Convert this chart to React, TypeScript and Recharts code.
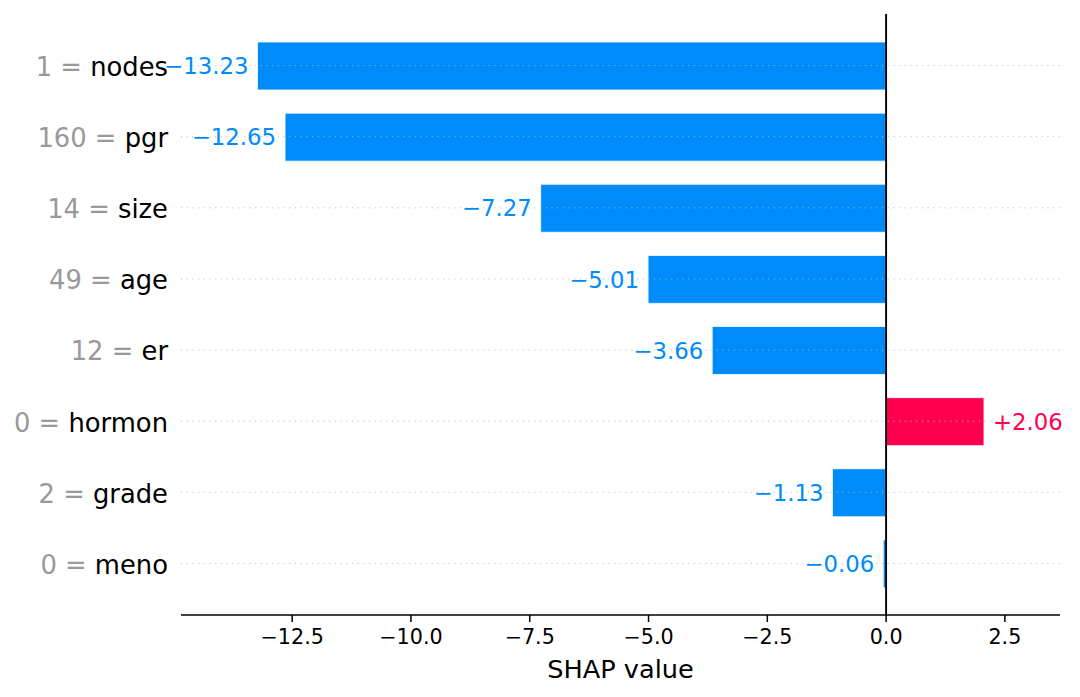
import React from 'react';
import { BarChart, Bar, XAxis, YAxis, ReferenceLine, Cell, LabelList } from 'recharts';

const features = ['nodes', 'pgr', 'size', 'age', 'er', 'hormon', 'grade', 'meno'];
const featureValues = ['1', '160', '14', '49', '12', '0', '2', '0'];
const shapValues = [-13.23, -12.65, -7.27, -5.01, -3.66, 2.06, -1.13, -0.06];
const xTicks = [-12.5, -10, -7.5, -5, -2.5, 0, 2.5];

const BLUE = '#008BFB';
const RED = '#FF0051';
const FONT = '"DejaVu Sans", sans-serif';

const data = features.map((f, i) => ({ name: f, fv: featureValues[i], value: shapValues[i] }));

const fmtTick = (v: number) => (v < 0 ? '\u2212' + Math.abs(v).toFixed(1) : v.toFixed(1));
const fmtVal = (v: number) => (v < 0 ? '\u2212' + Math.abs(v).toFixed(2) : '+' + v.toFixed(2));

const YTick = (props: any) => {
  const { x, y, payload } = props;
  const idx = features.indexOf(payload.value);
  return (
    <text x={x - 5} y={y} dy="0.4em" textAnchor="end" fontFamily={FONT} fontSize={25.8}>
      <tspan fill="#999999">{featureValues[idx] + ' = '}</tspan>
      <tspan fill="#000000">{payload.value}</tspan>
    </text>
  );
};

const XTick = (props: any) => {
  const { x, payload } = props;
  return (
    <text x={x} y={615 + 13} dy={15.8} textAnchor="middle" fontFamily={FONT} fontSize={20.7} fill="#000">
      {fmtTick(payload.value)}
    </text>
  );
};

const ValueLabel = (props: any) => {
  const { x, y, width, height, index } = props;
  const v = shapValues[index];
  const left = Math.min(x, x + width);
  const right = Math.max(x, x + width);
  const cy = y + height / 2;
  if (v < 0) {
    return (
      <text x={left - 9} y={cy} dy="0.36em" textAnchor="end" fontFamily={FONT} fontSize={22.8} fill={BLUE}>
        {fmtVal(v)}
      </text>
    );
  }
  return (
    <text x={right + 9} y={cy} dy="0.36em" textAnchor="start" fontFamily={FONT} fontSize={22.8} fill={RED}>
      {fmtVal(v)}
    </text>
  );
};

export default function App() {
  return (
    <div style={{ position: 'absolute', left: 0, top: 0, width: 1080, height: 697, background: '#fff' }}>
      <BarChart
        width={1080}
        height={697}
        data={data}
        layout="vertical"
        margin={{ top: 14, right: 20, bottom: 0, left: 0 }}
      >
        <XAxis
          type="number"
          domain={[-14.84, 3.66]}
          ticks={xTicks}
          allowDataOverflow
          height={82}
          tick={<XTick />}
          tickSize={7}
          tickLine={{ stroke: '#000', strokeWidth: 1.5 }}
          axisLine={{ stroke: '#000', strokeWidth: 1.5 }}
          label={{
            value: 'SHAP value',
            position: 'insideBottom',
            offset: 19,
            fontFamily: FONT,
            fontSize: 25.6,
            fill: '#000',
          }}
        />
        <YAxis
          type="category"
          dataKey="name"
          width={181}
          axisLine={false}
          tickLine={false}
          tick={<YTick />}
          padding={{ top: 16, bottom: 16 }}
          interval={0}
        />
        {features.map((f) => (
          <ReferenceLine
            key={f}
            y={f}
            stroke="#b8b8b8"
            strokeWidth={1}
            strokeDasharray="1 4.7"
          />
        ))}
        <ReferenceLine x={0} stroke="#000" strokeWidth={1.9} />
        <Bar
          dataKey="value"
          barSize={48}
          isAnimationActive={false}
          stroke="rgba(255,255,255,0.8)"
          strokeWidth={1}
        >
          {data.map((d, i) => (
            <Cell key={i} fill={d.value < 0 ? BLUE : RED} />
          ))}
          <LabelList dataKey="value" content={<ValueLabel />} />
        </Bar>
      </BarChart>
    </div>
  );
}
